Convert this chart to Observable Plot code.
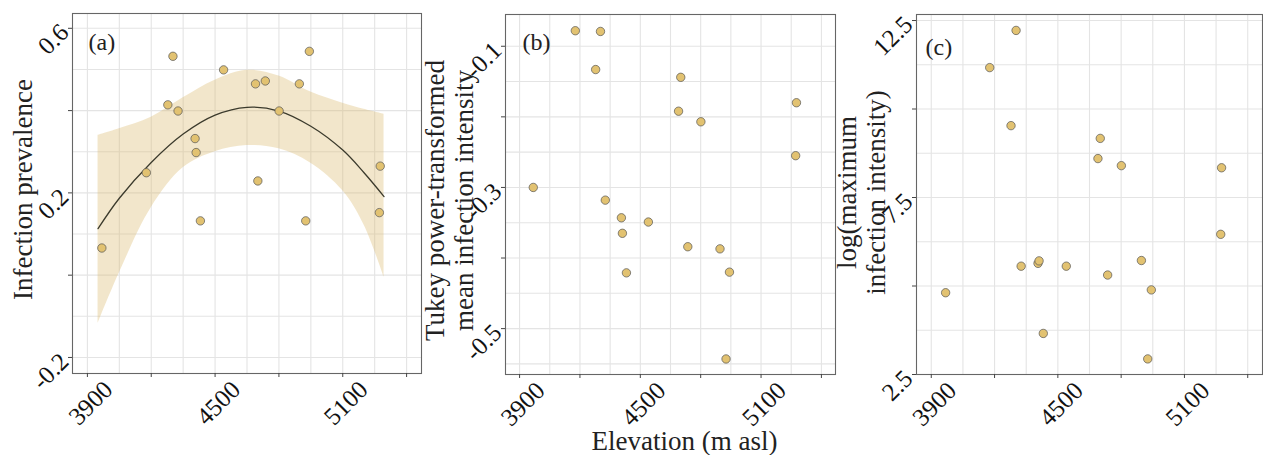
<!DOCTYPE html>
<html><head><meta charset="utf-8">
<script src="https://cdn.jsdelivr.net/npm/d3@7"></script>
<script src="https://cdn.jsdelivr.net/npm/@observablehq/plot@0.6"></script>
<style>
html,body{margin:0;padding:0;background:#fff;}
#wrap{position:relative;width:1263px;height:455px;overflow:hidden;background:#fff;font-family:"Liberation Serif","Times New Roman",serif;}
#wrap > svg{position:absolute;top:0;}
#wrap text{font-family:"Liberation Serif","Times New Roman",serif;}
</style></head><body><div id="wrap"></div>
<script>
// ---- data ----
const elevation     = [3968, 4177, 4278, 4302, 4326, 4406, 4411, 4431, 4540, 4690, 4701, 4736, 4801, 4896, 4926, 4943, 5272, 5276];
const prevalence    = [0.066, 0.249, 0.414, 0.532, 0.399, 0.332, 0.298, 0.132, 0.499, 0.465, 0.229, 0.472, 0.399, 0.465, 0.132, 0.544, 0.152, 0.265];
const meanIntensity = [-0.300, -0.078, -0.133, -0.079, -0.318, -0.343, -0.365, -0.421, -0.349, -0.192, -0.144, -0.384, -0.207, -0.387, -0.543, -0.420, -0.255, -0.180];
const maxIntensity  = [4.81, 11.17, 9.53, 12.22, 5.56, 5.64, 5.71, 3.66, 5.56, 8.60, 9.17, 5.31, 8.40, 5.72, 2.94, 4.89, 6.46, 8.34];

// quadratic smooth with confidence band, panel (a)
const fitElevation = [3950, 4050, 4200, 4350, 4500, 4650, 4800, 4950, 5100, 5200, 5294];
const fitPrev      = [0.113, 0.187, 0.274, 0.343, 0.389, 0.408, 0.399, 0.362, 0.304, 0.249, 0.191];
const fitLower     = [-0.118, 0.005, 0.164, 0.261, 0.300, 0.315, 0.307, 0.272, 0.205, 0.122, -0.005];
const fitUpper     = [0.340, 0.356, 0.384, 0.431, 0.474, 0.498, 0.484, 0.445, 0.418, 0.403, 0.391];

// axes
const xDomain = [3830, 5470];
const xTicks = [3900, 4200, 4500, 4800, 5100, 5400];
const xTickLabels = ["3900", "", "4500", "", "5100", ""];
const xGrid = [3900, 4050, 4200, 4350, 4500, 4650, 4800, 4950, 5100, 5250, 5400];

const aTicks = [-0.2, 0, 0.2, 0.4, 0.6];
const aTickLabels = ["-0.2", "", "0.2", "", "0.6"];
const aGrid = [-0.2, -0.1, 0, 0.1, 0.2, 0.3, 0.4, 0.5, 0.6];
const bTicks = [-0.5, -0.4, -0.3, -0.2, -0.1];
const bTickLabels = ["-0.5", "", "-0.3", "", "-0.1"];
const bGrid = [-0.55, -0.5, -0.45, -0.4, -0.35, -0.3, -0.25, -0.2, -0.15, -0.1];
const cTicks = [2.5, 5, 7.5, 10, 12.5];
const cTickLabels = ["2.5", "", "7.5", "", "12.5"];
const cGrid = [2.5, 3.75, 5, 6.25, 7.5, 8.75, 10, 11.25, 12.5];

const FONT = '"Liberation Serif", "Times New Roman", serif';
const wrap = document.getElementById("wrap");

function panel(o) {
  const pts = elevation.map((e, i) => ({e, v: o.values[i]}));
  const xl = new Map(xTicks.map((t, i) => [t, xTickLabels[i]]));
  const yl = new Map(o.yTicks.map((t, i) => [t, o.yTickLabels[i]]));
  const marks = [
    Plot.gridX(xGrid, {stroke: "#e4e4e4", strokeOpacity: 1, strokeWidth: 1.1}),
    Plot.gridY(o.yGrid, {stroke: "#e4e4e4", strokeOpacity: 1, strokeWidth: 1.1}),
    ...(o.extra || []),
    Plot.dot(pts, {x: "e", y: "v", r: 4.2, fill: "#e2c271", stroke: "#555", strokeWidth: 0.7}),
    Plot.frame({stroke: "#666", strokeWidth: 1.1}),
    Plot.axisX(xTicks, {tickSize: 4, stroke: "#444", tickFormat: () => "", label: null}),
    Plot.axisX(xTicks, {tickSize: 0, tickPadding: 12, tickRotate: -45, dx: 21, fontSize: 25, fill: "#111", tickFormat: d => xl.get(d), label: null}),
    Plot.axisY(o.yTicks, {tickSize: 4, stroke: "#444", tickFormat: () => "", label: null}),
    Plot.axisY(o.yTicks, {tickSize: 0, tickPadding: 8, tickRotate: -45, fontSize: 25, fill: "#111", tickFormat: d => yl.get(d), label: null}),
    Plot.text([o.tag], {frameAnchor: "top-left", dx: o.tagDx, dy: o.tagDy, fontSize: 24, textAnchor: "start", lineAnchor: "top", fill: "#222"}),
    Plot.text([o.title], {frameAnchor: "left", rotate: -90, dx: o.titleDx, dy: o.titleDy, fontSize: 27, textAnchor: "middle", lineAnchor: "middle", lineHeight: 1.08, fill: "#222"}),
    ...(o.after || [])
  ];
  const svg = Plot.plot({
    width: o.width, height: 455,
    marginLeft: o.ml, marginRight: o.mr, marginTop: o.mt, marginBottom: o.mb,
    x: {domain: xDomain, axis: null, label: null},
    y: {domain: o.yDomain, axis: null, label: null},
    style: {fontFamily: FONT, background: "none", overflow: "visible", color: "#111"},
    marks
  });
  svg.style.left = o.left + "px";
  wrap.appendChild(svg);
}

const fit = fitElevation.map((e, i) => ({e, y: fitPrev[i], lo: fitLower[i], hi: fitUpper[i]}));

panel({
  left: 0, width: 425, ml: 72, mr: 4, mt: 13, mb: 82,
  yDomain: [-0.239, 0.636], yTicks: aTicks, yTickLabels: aTickLabels, yGrid: aGrid,
  values: prevalence, tag: "(a)", tagDx: 16, tagDy: 19,
  title: "Infection prevalence", titleDx: -50, titleDy: -4,
  extra: [
    Plot.areaY(fit, {x: "e", y1: "lo", y2: "hi", fill: "#d9b86a", fillOpacity: 0.35, curve: "catmull-rom"}),
    Plot.line(fit, {x: "e", y: "y", stroke: "#3b3a2c", strokeWidth: 1.3, curve: "catmull-rom"})
  ]
});

panel({
  left: 425, width: 415, ml: 80, mr: 5, mt: 14, mb: 81,
  yDomain: [-0.565, -0.055], yTicks: bTicks, yTickLabels: bTickLabels, yGrid: bGrid,
  values: meanIntensity, tag: "(b)", tagDx: 17, tagDy: 18,
  title: "Tukey power-transformed\nmean infection intensity", titleDx: -56, titleDy: 6,
  after: [
    Plot.text(["Elevation (m asl)"], {frameAnchor: "bottom", dx: 14, dy: 75, fontSize: 27, textAnchor: "middle", lineAnchor: "bottom", fill: "#222"})
  ]
});

panel({
  left: 840, width: 423, ml: 76, mr: 1, mt: 14, mb: 81,
  yDomain: [2.5, 12.67], yTicks: cTicks, yTickLabels: cTickLabels, yGrid: cGrid,
  values: maxIntensity, tag: "(c)", tagDx: 9, tagDy: 23,
  title: "log(maximum\ninfection intensity)", titleDx: -55, titleDy: -2
});
</script></body></html>
